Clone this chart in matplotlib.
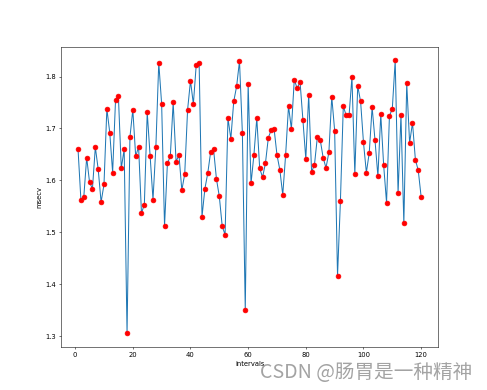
import numpy as np
import matplotlib
matplotlib.use('Agg')
import matplotlib.pyplot as plt

intervals = list(range(1, 121))
msecv = [1.660, 1.562, 1.568, 1.644, 1.596, 1.584, 1.664, 1.621, 1.558, 1.592,
         1.738, 1.692, 1.615, 1.754, 1.762, 1.623, 1.660, 1.305, 1.683, 1.736,
         1.646, 1.665, 1.537, 1.553, 1.731, 1.647, 1.563, 1.665, 1.827, 1.747,
         1.512, 1.633, 1.646, 1.750, 1.636, 1.649, 1.581, 1.612, 1.736, 1.792,
         1.747, 1.823, 1.826, 1.530, 1.584, 1.614, 1.655, 1.660, 1.603, 1.569,
         1.512, 1.495, 1.720, 1.680, 1.752, 1.781, 1.830, 1.691, 1.350, 1.786,
         1.594, 1.649, 1.720, 1.623, 1.606, 1.633, 1.682, 1.697, 1.699, 1.649,
         1.620, 1.572, 1.649, 1.743, 1.699, 1.794, 1.777, 1.790, 1.716, 1.641,
         1.765, 1.616, 1.630, 1.683, 1.678, 1.644, 1.624, 1.654, 1.761, 1.696,
         1.416, 1.560, 1.743, 1.725, 1.725, 1.799, 1.612, 1.782, 1.752, 1.673,
         1.615, 1.653, 1.741, 1.677, 1.608, 1.727, 1.629, 1.557, 1.724, 1.738,
         1.831, 1.575, 1.726, 1.517, 1.787, 1.672, 1.711, 1.640, 1.619, 1.568]

fig = plt.figure(figsize=(10, 390 / 48.7), dpi=48.7)
ax = fig.add_subplot(111)
ax.plot(intervals, msecv)
ax.scatter(intervals, msecv, color='r', s=50, zorder=3)
ax.set_xlabel('intervals')
ax.set_ylabel('msecv')

# watermark
fig.text(0.533, 0.046, 'CSDN @肠胃是一种精神', fontsize=29, color='#999999', alpha=0.9,
         family=['Noto Sans CJK SC', 'DejaVu Sans'], va='center', ha='left')

fig.savefig('out.png', dpi=48.7)
